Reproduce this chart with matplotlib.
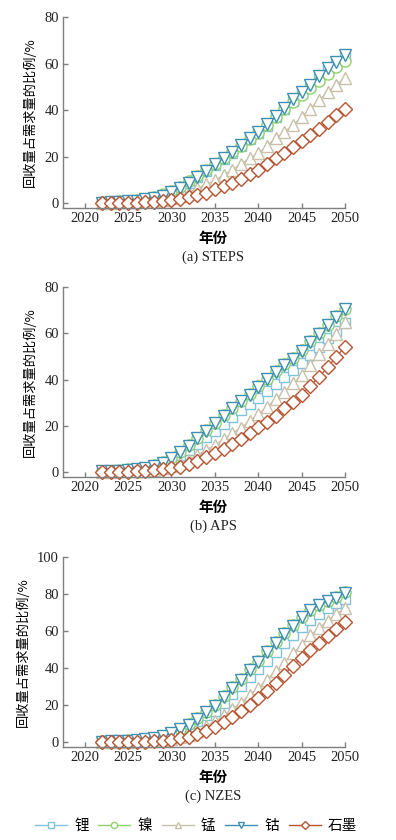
import matplotlib
matplotlib.use("Agg")

import matplotlib.pyplot as plt
from matplotlib.lines import Line2D

plt.rcParams["font.family"] = ["Liberation Serif", "Noto Sans CJK SC", "DejaVu Sans"]

YEARS = list(range(2022, 2051))

NAMES = ["锂", "镍", "锰", "钴", "石墨"]
COLORS = ["#7fc3dc", "#8fd06c", "#c8c0a8", "#3f8fb0", "#b8532f"]
MARKERS = ["s", "o", "^", "v", "D"]
SIZES = [7.5, 8, 9, 9, 7.5]   # marker sizes, roughly equal visual width

# (a) STEPS
A_LI = [0.3, 0.4, 0.5, 0.8, 1.0, 1.5, 2.1, 3.0, 4.6, 6.1, 8.6, 11.1, 13.7, 16.5,
        18.9, 21.7, 24.6, 27.6, 30.2, 33.4, 36.9, 40.5, 44.1, 47.3, 50.4, 53.9,
        57.2, 60.0, 62.9]
A_NI = [0.5, 0.6, 0.8, 1.1, 1.5, 2.0, 2.8, 3.8, 5.5, 7.2, 9.4, 11.8, 14.2, 17.0,
        19.3, 22.0, 24.7, 27.8, 30.3, 33.5, 37.0, 40.5, 43.5, 46.5, 49.5, 52.5,
        55.5, 58.5, 61.0]
A_MN = [0.2, 0.3, 0.4, 0.5, 0.6, 0.8, 1.0, 1.5, 2.1, 3.1, 4.6, 6.4, 8.1, 10.0,
        12.1, 14.3, 16.9, 19.3, 21.4, 24.7, 27.9, 30.7, 33.6, 37.1, 40.7, 44.3,
        47.9, 50.7, 54.0]
A_CO = [0.3, 0.4, 0.6, 0.9, 1.2, 1.7, 2.3, 3.2, 5.0, 6.4, 8.9, 11.4, 14.0, 16.9,
        19.3, 22.1, 25.0, 28.1, 30.7, 33.9, 37.4, 41.1, 44.7, 47.9, 51.0, 54.6,
        57.9, 60.7, 63.6]
A_GR = [0.1, 0.1, 0.1, 0.1, 0.2, 0.4, 0.6, 0.9, 1.4, 1.7, 2.6, 3.6, 4.6, 6.0,
        7.4, 8.9, 10.4, 12.6, 14.3, 16.7, 19.3, 21.4, 24.3, 26.7, 29.3, 32.1,
        35.0, 37.9, 40.3]

# (b) APS
B_LI = [0.3, 0.4, 0.6, 0.8, 1.1, 1.7, 2.7, 3.9, 5.3, 7.5, 9.6, 12.2, 15.1, 18.0,
        20.8, 24.0, 26.9, 29.5, 32.3, 35.2, 38.1, 41.0, 44.1, 47.0, 50.6, 54.2,
        57.8, 61.0, 64.5]
B_NI = [0.6, 0.8, 1.0, 1.3, 1.6, 2.0, 3.0, 4.5, 6.3, 8.9, 11.8, 15.0, 18.1, 21.4,
        24.6, 27.9, 31.0, 33.9, 37.2, 40.4, 43.7, 46.6, 49.4, 52.7, 56.6, 60.2,
        63.8, 67.5, 70.6]
B_MN = [0.2, 0.3, 0.4, 0.5, 0.6, 0.8, 1.2, 1.8, 2.7, 3.9, 5.3, 7.5, 9.6, 11.8,
        14.2, 16.8, 19.3, 22.1, 25.0, 28.3, 31.5, 34.8, 38.4, 42.0, 46.3, 51.0,
        55.6, 59.9, 64.9]
B_CO = [0.4, 0.5, 0.7, 1.0, 1.3, 1.7, 2.7, 4.2, 6.0, 8.6, 11.5, 14.7, 17.8, 21.1,
        24.3, 27.6, 30.7, 33.6, 36.9, 40.1, 43.4, 46.3, 49.1, 52.4, 56.3, 59.9,
        63.5, 67.2, 70.3]
B_GR = [0.2, 0.2, 0.2, 0.3, 0.4, 0.6, 0.9, 1.3, 1.7, 2.4, 3.6, 4.9, 6.5, 8.2,
        9.9, 12.2, 14.4, 16.8, 19.4, 21.8, 24.3, 27.6, 30.5, 33.6, 37.4, 41.2,
        45.3, 49.9, 54.2]

# (c) NZES
C_LI = [0.3, 0.4, 0.5, 0.7, 1.0, 1.4, 2.0, 3.0, 4.4, 6.5, 8.6, 11.3, 14.5, 17.1,
        21.5, 26.3, 30.3, 35.1, 39.5, 44.1, 48.9, 53.6, 57.7, 62.4, 66.0, 69.1,
        72.3, 75.0, 77.1]
C_NI = [0.6, 0.8, 1.0, 1.2, 1.5, 1.9, 2.4, 3.7, 5.1, 7.4, 9.8, 13.0, 16.5, 20.1,
        24.8, 29.8, 34.2, 39.5, 43.9, 49.2, 53.9, 58.9, 63.3, 67.7, 71.6, 74.2,
        76.3, 78.3, 80.9]
C_MN = [0.2, 0.3, 0.3, 0.4, 0.5, 0.6, 0.9, 1.3, 1.9, 3.0, 4.2, 6.2, 8.6, 11.3,
        14.5, 18.0, 21.5, 25.6, 29.5, 33.9, 38.3, 43.0, 48.0, 52.7, 57.7, 61.6,
        65.6, 69.1, 72.7]
C_CO = [0.4, 0.5, 0.7, 0.9, 1.2, 1.6, 2.1, 3.4, 4.8, 7.1, 9.5, 12.7, 16.2, 19.8,
        24.5, 29.5, 33.9, 39.2, 43.6, 48.9, 53.6, 58.6, 63.0, 67.4, 71.3, 73.9,
        76.0, 78.0, 80.6]
C_GR = [0.1, 0.1, 0.1, 0.2, 0.2, 0.3, 0.5, 0.8, 1.2, 2.1, 3.0, 4.4, 6.2, 8.3,
        10.9, 13.9, 16.8, 20.3, 24.2, 27.7, 32.1, 36.5, 41.3, 45.7, 49.7, 53.6,
        57.3, 61.2, 64.7]

PANELS = [
    ("(a) STEPS", [A_LI, A_NI, A_MN, A_CO, A_GR], 80, [0, 20, 40, 60, 80]),
    ("(b) APS", [B_LI, B_NI, B_MN, B_CO, B_GR], 80, [0, 20, 40, 60, 80]),
    ("(c) NZES", [C_LI, C_NI, C_MN, C_CO, C_GR], 100, [0, 20, 40, 60, 80, 100]),
]
XTICKS = [2020, 2025, 2030, 2035, 2040, 2045, 2050]

W, H = 396, 840
fig = plt.figure(figsize=(W / 100, H / 100), dpi=100)

# pixel boxes (top, bottom) of each axes
BOXES = [(17, 208), (287, 477), (557, 747)]
LEFT, RIGHT = 63, 345
SPINE = "#7f7f7f"
CJK = ["Noto Sans CJK SC", "DejaVu Sans"]

for (caption, series, ymax, yticks), (top, bot) in zip(PANELS, BOXES):
    ax = fig.add_axes([LEFT / W, 1 - bot / H, (RIGHT - LEFT) / W, (bot - top) / H])
    for vals, col, mk, ms in zip(series, COLORS, MARKERS, SIZES):
        ax.plot(YEARS, vals, color=col, lw=0.9, marker=mk, ms=ms,
                mfc="white", mec=col, mew=1.0, clip_on=False)
    ax.set_xlim(2017.5, 2050)
    ax.set_ylim(-ymax * 0.025, ymax)
    ax.set_xticks(XTICKS)
    ax.set_yticks(yticks)
    for s in ("top", "right"):
        ax.spines[s].set_visible(False)
    for s in ("left", "bottom"):
        ax.spines[s].set_color(SPINE)
        ax.spines[s].set_linewidth(1.0)
    ax.tick_params(direction="in", length=3.5, width=1.0, color=SPINE,
                   labelsize=10.5, labelcolor="#222222", pad=3)
    ax.set_ylabel("回收量占需求量的比例/%", fontsize=9.5, family=CJK, labelpad=5)
    fig.text(213 / W, 1 - (bot + 30) / H, "年份", ha="center", va="center",
             fontsize=10.5, fontweight="bold", family=CJK)
    fig.text(213 / W, 1 - (bot + 49) / H, caption, ha="center", va="center",
             fontsize=10.5, color="#222222")

# legend markers are drawn smaller than in the plots, as in the original
handles = [Line2D([], [], color=c, lw=1.0, marker=m, ms=4.5, mfc="white", mec=c, mew=1.0)
           for c, m in zip(COLORS, MARKERS)]
fig.legend(handles, NAMES, loc="center", bbox_to_anchor=(196 / W, 1 - 826 / H),
           ncol=5, frameon=False, handlelength=2.2, handletextpad=0.5,
           columnspacing=0.65, prop={"family": "Noto Sans CJK SC", "size": 10.5})

fig.savefig("out.png", dpi=100)
